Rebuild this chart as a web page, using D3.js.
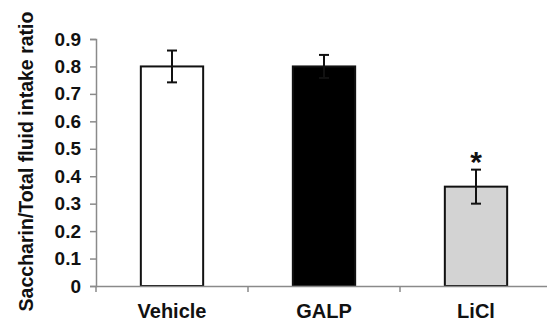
<!DOCTYPE html>
<html>
<head>
<meta charset="utf-8">
<script src="https://cdn.jsdelivr.net/npm/d3@7"></script>
<style>
  html, body { margin: 0; padding: 0; background: #fff; }
  svg { display: block; }
  text { font-family: "Liberation Sans", Arial, Helvetica, sans-serif; font-weight: bold; }
</style>
</head>
<body>
<script>
const categories = ["Vehicle", "GALP", "LiCl"];
const means = [0.80, 0.80, 0.362];
const errors = [0.058, 0.042, 0.062];
const fills = ["#ffffff", "#000000", "#d3d3d3"];
const significant = [false, false, true];
const yTicks = [0, 0.1, 0.2, 0.3, 0.4, 0.5, 0.6, 0.7, 0.8, 0.9];
const yTitle = "Saccharin/Total fluid intake ratio";

const W = 547, H = 320;
const left = 96, right = 552, y0 = 286, yTop = 39;

const svg = d3.select("body").append("svg").attr("width", W).attr("height", H);

const y = d3.scaleLinear().domain([0, 0.9]).range([y0, yTop]);
const xCat = d3.scaleBand().domain(categories).range([left, right]).padding(0);
const xBar = d3.scaleBand().domain(categories).range([left, right])
  .paddingInner(0.59).paddingOuter(0.295);

const axisColor = "#8a8a8a";

// Y axis
const yAxis = svg.append("g").attr("transform", `translate(${left},0)`)
  .call(d3.axisLeft(y).tickValues(yTicks).tickSize(6).tickPadding(9)
    .tickFormat(d => d === 0 ? "0" : d3.format(".1f")(d)));
yAxis.select(".domain").attr("stroke", axisColor).attr("stroke-width", 1.5);
yAxis.selectAll(".tick line").attr("stroke", axisColor).attr("stroke-width", 1.5);
yAxis.selectAll(".tick text").attr("fill", "#111").style("font-size", "19px")
  .style("font-family", "'Liberation Sans', Arial, sans-serif").style("font-weight", "bold");

// Bars
svg.append("g").selectAll("rect").data(categories).join("rect")
  .attr("x", d => xBar(d))
  .attr("y", (d, i) => y(means[i]))
  .attr("width", xBar.bandwidth())
  .attr("height", (d, i) => y0 - y(means[i]))
  .attr("fill", (d, i) => fills[i])
  .attr("stroke", "#111")
  .attr("stroke-width", 2);

// X axis
svg.append("line").attr("x1", left).attr("x2", W).attr("y1", y0 + 0.5).attr("y2", y0 + 0.5)
  .attr("stroke", axisColor).attr("stroke-width", 1.5);
svg.append("g").selectAll("line").data(categories).join("line")
  .attr("x1", d => xCat(d)).attr("x2", d => xCat(d))
  .attr("y1", y0).attr("y2", y0 + 6)
  .attr("stroke", axisColor).attr("stroke-width", 1.5);
svg.append("g").selectAll("text").data(categories).join("text")
  .attr("x", d => xCat(d) + xCat.bandwidth() / 2)
  .attr("y", 317.5)
  .attr("text-anchor", "middle")
  .style("font-size", "20px")
  .attr("fill", "#111")
  .text(d => d);

// Error bars
const capW = 10;
const eb = svg.append("g").attr("stroke", "#111").attr("stroke-width", 2);
categories.forEach((c, i) => {
  const cx = xBar(c) + xBar.bandwidth() / 2;
  const yHi = y(means[i] + errors[i]);
  const yLo = y(means[i] - errors[i]);
  eb.append("line").attr("x1", cx).attr("x2", cx).attr("y1", yHi).attr("y2", yLo);
  eb.append("line").attr("x1", cx - capW / 2).attr("x2", cx + capW / 2).attr("y1", yHi).attr("y2", yHi);
  eb.append("line").attr("x1", cx - capW / 2).attr("x2", cx + capW / 2).attr("y1", yLo).attr("y2", yLo);
  if (significant[i]) {
    svg.append("text").attr("x", cx).attr("y", yHi + 2)
      .attr("text-anchor", "middle").style("font-size", "30px").attr("fill", "#111").text("*");
  }
});

// Y title
svg.append("text")
  .attr("transform", `translate(33,${161.5}) rotate(-90)`)
  .attr("text-anchor", "middle")
  .style("font-size", "19.5px")
  .attr("fill", "#111")
  .text(yTitle);
</script>
</body>
</html>
